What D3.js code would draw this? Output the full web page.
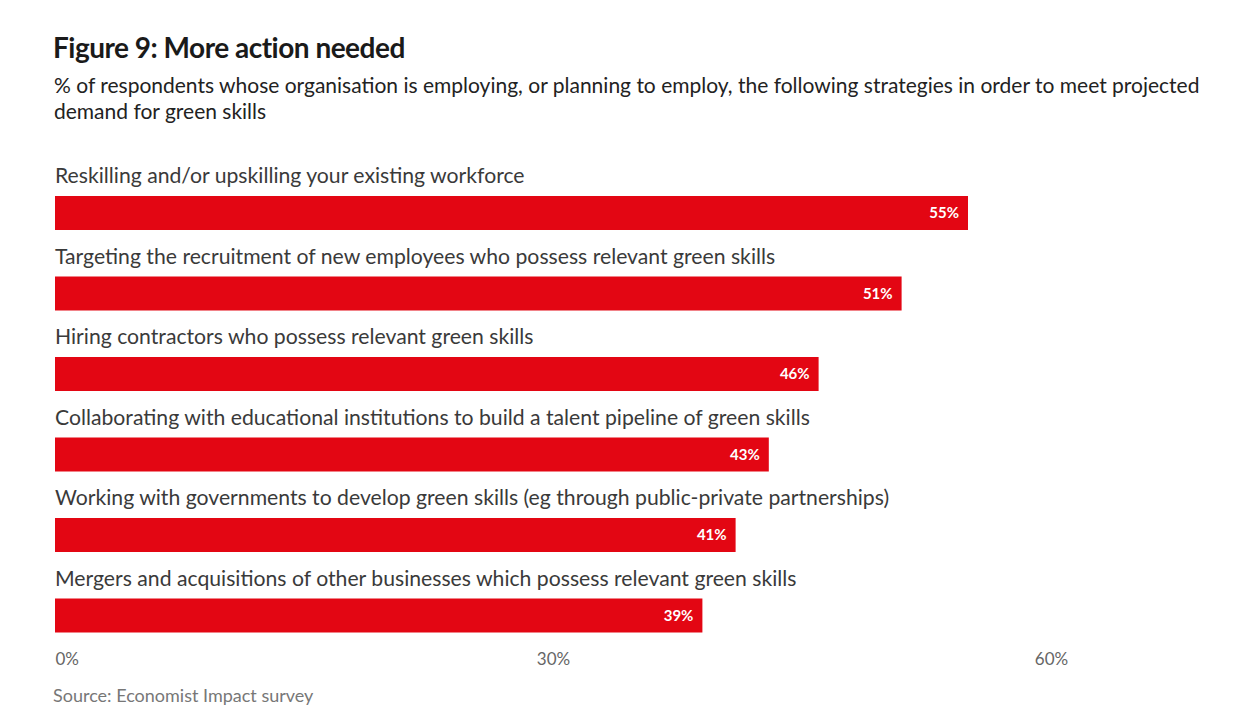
<!DOCTYPE html>
<html>
<head>
<meta charset="utf-8">
<script src="https://cdn.jsdelivr.net/npm/d3@7"></script>
<style>
  body { margin: 0; background: #fff; }
  svg text { font-family: Lato, "Open Sans", sans-serif; }
</style>
</head>
<body>
<svg id="chart" width="1251" height="727"></svg>
<script>
// data
const strategies = [
    "Reskilling and/or upskilling your existing workforce",
    "Targeting the recruitment of new employees who possess relevant green skills",
    "Hiring contractors who possess relevant green skills",
    "Collaborating with educational institutions to build a talent pipeline of green skills",
    "Working with governments to develop green skills (eg through public-private partnerships)",
    "Mergers and acquisitions of other businesses which possess relevant green skills"
];
const shares = [55, 51, 46, 43, 41, 39];
const tickValues = [0, 30, 60];

const svg = d3.select("#chart");

// title and subtitle
svg.append("text")
    .attr("x", 53).attr("y", 58)
    .attr("font-size", 28).attr("font-weight", 700)
    .attr("fill", "#1a1a1a")
    .attr("letter-spacing", -0.5)
    .text("Figure 9: More action needed");

const subLines = [
    "% of respondents whose organisation is employing, or planning to employ, the following strategies in order to meet projected",
    "demand for green skills"
];
svg.append("g").selectAll("text")
    .data(subLines)
    .join("text")
    .attr("x", 54)
    .attr("y", (d, i) => 93 + i * 26)
    .attr("font-size", 21)
    .attr("fill", "#222")
    .text(d => d);

// scales
const x = d3.scaleLinear().domain([0, 60]).range([55, 1051]);
const y = d3.scaleBand().domain(strategies).range([156, 639]).paddingInner(0);

const rows = svg.append("g").selectAll("g")
    .data(strategies)
    .join("g")
    .attr("transform", d => `translate(0,${y(d)})`);

// category label above each bar
rows.append("text")
    .attr("x", 55).attr("y", 27)
    .attr("font-size", 21.2)
    .attr("fill", "#3a3a3a")
    .text(d => d);

rows.append("rect")
    .attr("x", x(0))
    .attr("y", 40)
    .attr("height", 34)
    .attr("width", (d, i) => x(shares[i]) - x(0))
    .attr("fill", "#e30613");

rows.append("text")
    .attr("x", (d, i) => x(shares[i]) - 9)
    .attr("y", 62)
    .attr("text-anchor", "end")
    .attr("font-size", 15)
    .attr("font-weight", 700)
    .attr("fill", "#fff")
    .text((d, i) => shares[i] + "%");

// axis (labels only)
const axis = d3.axisBottom(x).tickValues(tickValues).tickFormat(d => d + "%").tickSize(0).tickPadding(0);
const axisG = svg.append("g")
    .attr("transform", "translate(0,653)")
    .call(axis);
axisG.select(".domain").remove();
axisG.selectAll("text")
    .attr("font-size", 17)
    .attr("fill", "#666")
    .attr("font-family", "Lato, sans-serif")
    .attr("text-anchor", d => d === 0 ? "start" : "middle");

svg.append("text")
    .attr("x", 53).attr("y", 702)
    .attr("font-size", 18)
    .attr("fill", "#777")
    .text("Source: Economist Impact survey");
</script>
</body>
</html>
